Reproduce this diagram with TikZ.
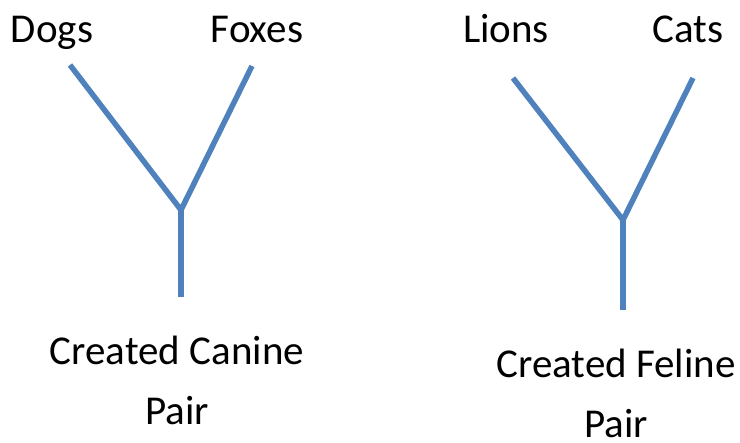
\documentclass[tikz,border=0pt]{standalone}
\usepackage{fontspec}
\setmainfont{Carlito}
\usetikzlibrary{positioning}

\definecolor{branchblue}{HTML}{4F81BD}
\tikzset{
  kind/.style={anchor=base, inner sep=0pt, font=\fontsize{41}{60}\selectfont},
  pair/.style={kind, align=center},
  branch/.style={draw=branchblue, line width=5.5pt}
}

\begin{document}
\begin{tikzpicture}[x=1pt, y=-1pt]
\useasboundingbox (0,0) rectangle (740,443);

% canine side
\node[kind] (dogs) at (52,43) {Dogs};
\node[kind] (foxes) at (257,43) {Foxes};
\coordinate (dogtip) at (70,65);
\coordinate (foxtip) at (252,66);
\coordinate (canjoin) at (181,210);
\coordinate (canfoot) at (181,297);
\draw [branch] (dogtip) -- (canjoin) -- (foxtip);
\draw [branch] (canjoin) -- (canfoot);
\node[pair] (canine) at (177,425) {Created Canine\\Pair};

% feline side
\node[kind] (lions) at (506,43) {Lions};
\node[kind] (cats) at (688,43) {Cats};
\coordinate (liontip) at (513,78);
\coordinate (cattip) at (693,78);
\coordinate (feljoin) at (623,220);
\coordinate (felfoot) at (623,310);
\draw [branch] (liontip) -- (feljoin) -- (cattip);
\draw [branch] (feljoin) -- (felfoot);
\node[pair] (feline) at (616,438) {Created Feline\\Pair};
\end{tikzpicture}
\end{document}
